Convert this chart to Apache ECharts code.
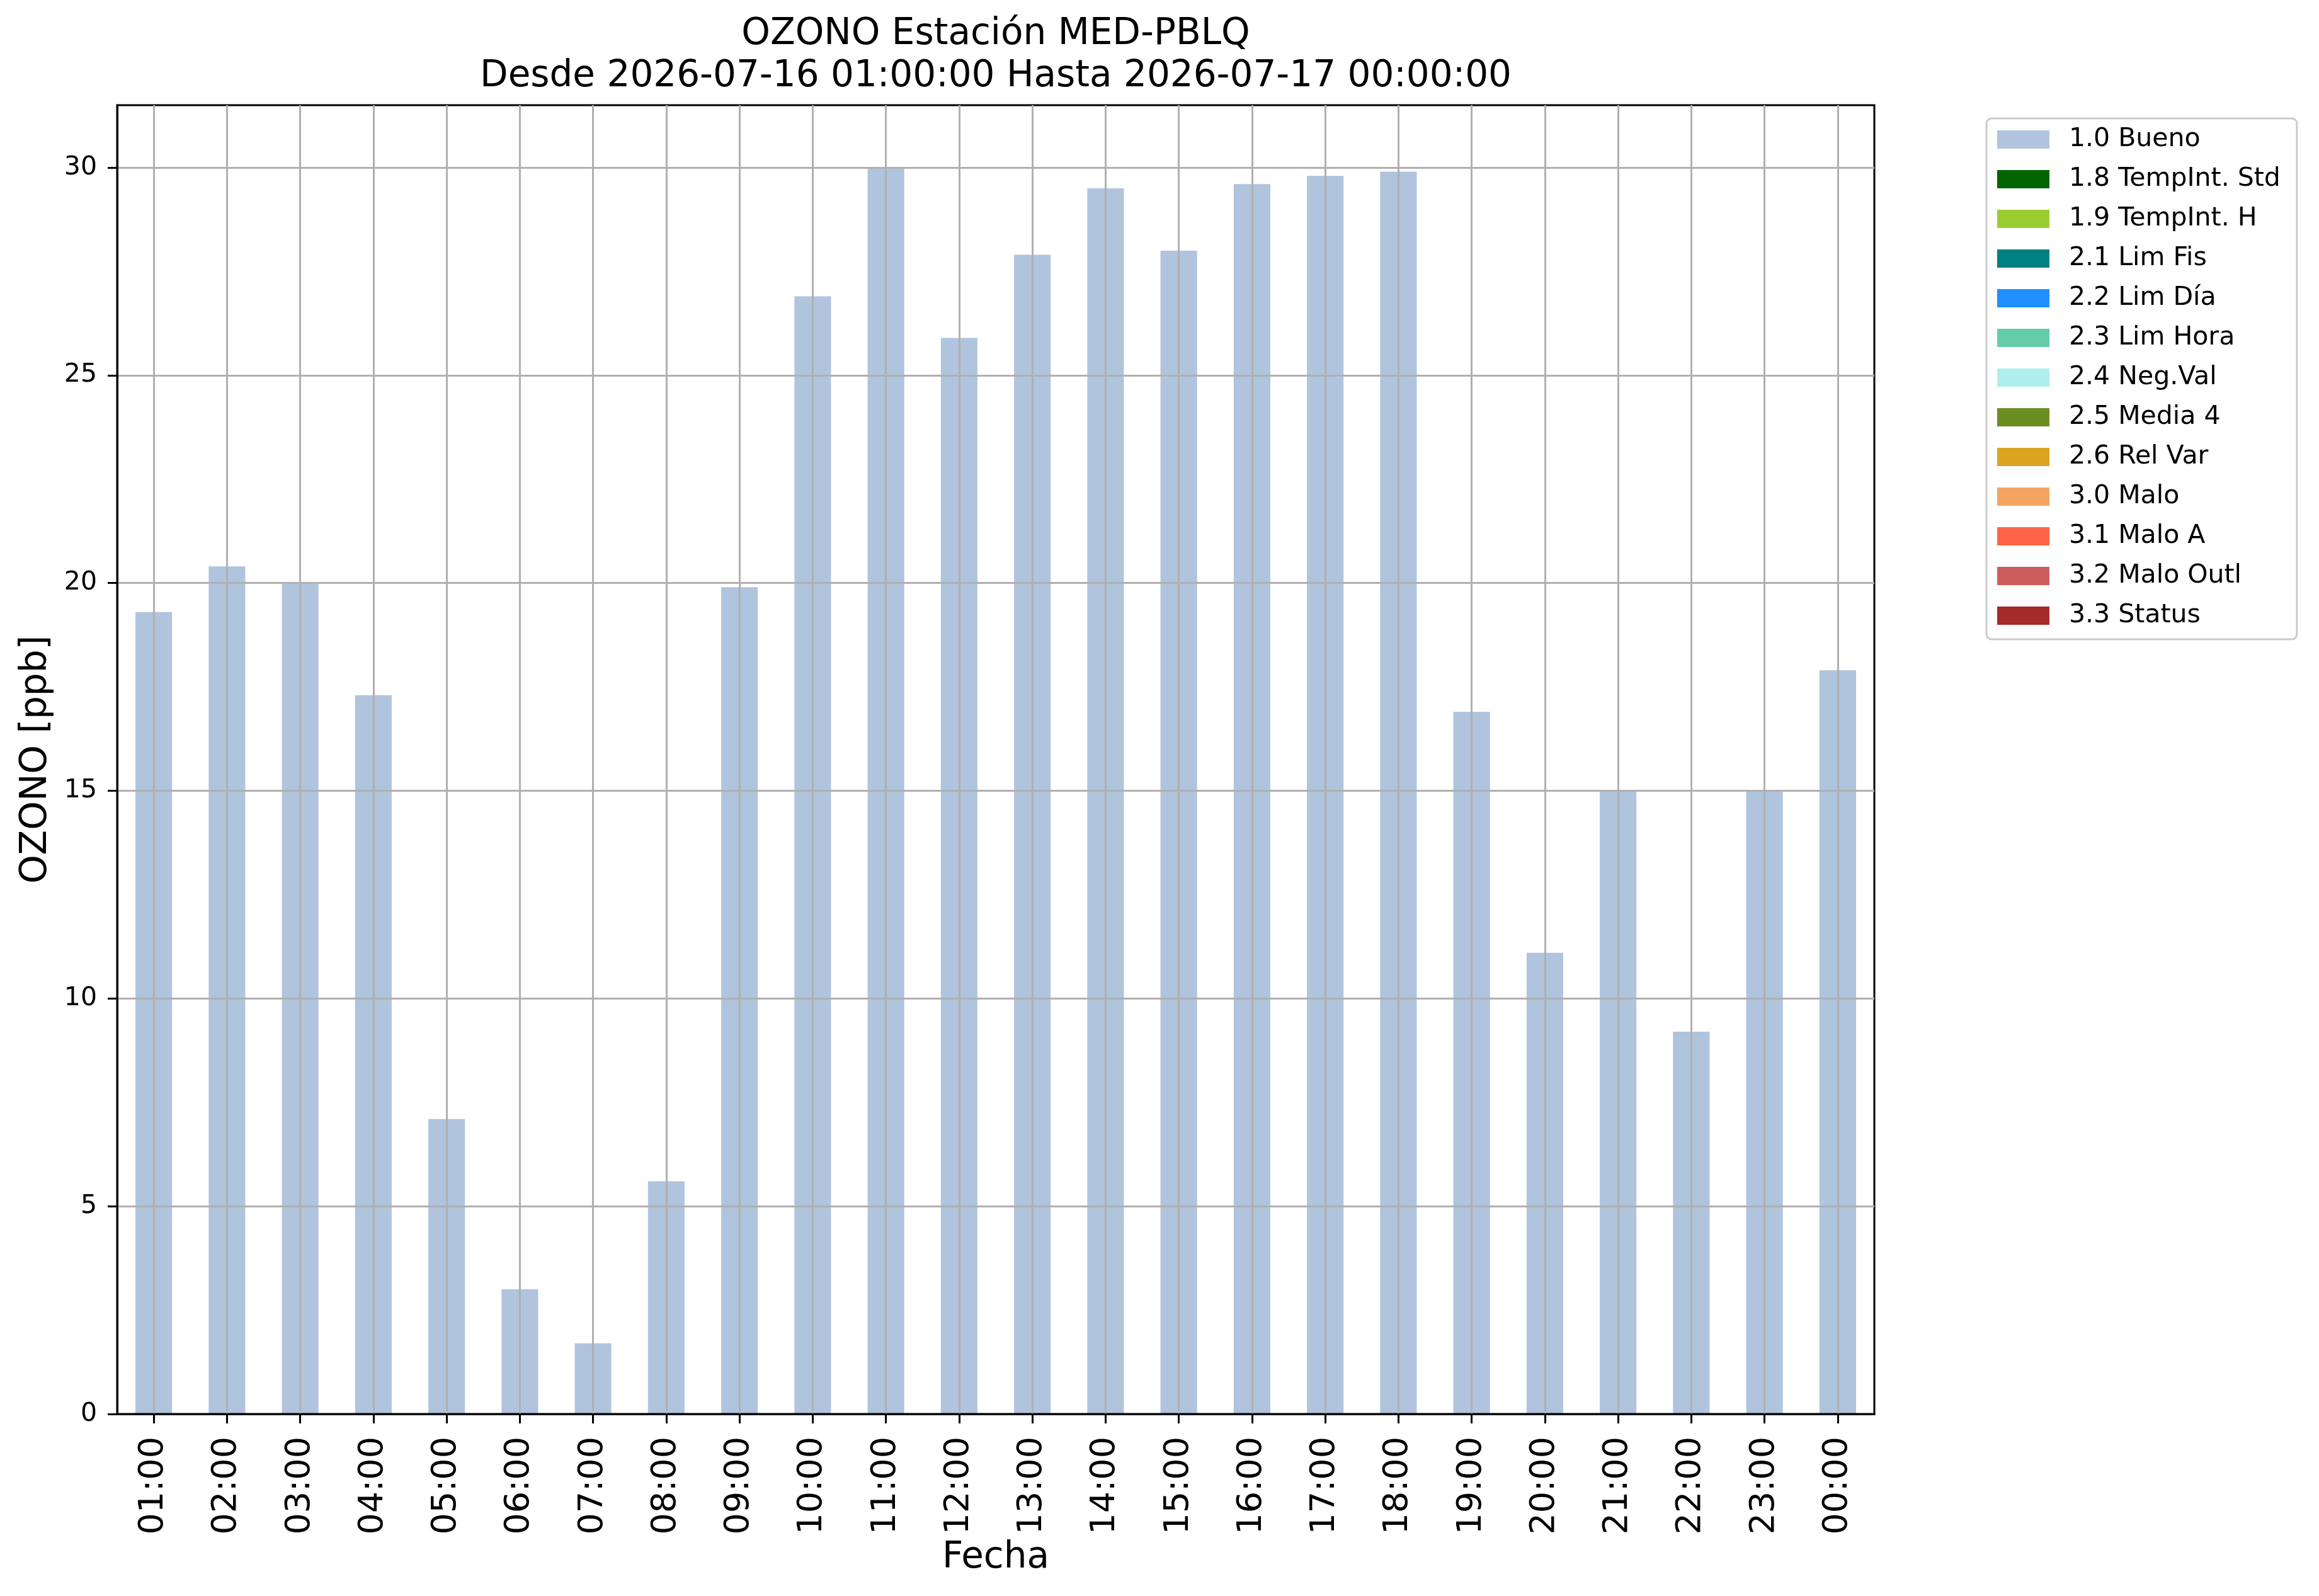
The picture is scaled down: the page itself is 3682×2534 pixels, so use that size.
<!DOCTYPE html>
<html>
<head>
<meta charset="utf-8">
<script src="https://cdn.jsdelivr.net/npm/echarts@6/dist/echarts.min.js"></script>
<style>
  html, body { margin: 0; padding: 0; background: #fff; }
  #chart { width: 3682px; height: 2534px; }
</style>
</head>
<body>
<div id="chart"></div>
<script>
// horas del día (eje x)
var horas = ['01:00','02:00','03:00','04:00','05:00','06:00','07:00','08:00','09:00','10:00','11:00','12:00',
             '13:00','14:00','15:00','16:00','17:00','18:00','19:00','20:00','21:00','22:00','23:00','00:00'];
// valores de ozono con bandera 1.0 Bueno
var ozono = [19.3, 20.4, 20.0, 17.3, 7.1, 3.0, 1.7, 5.6, 19.9, 26.9, 30.0, 25.9,
             27.9, 29.5, 28.0, 29.6, 29.8, 29.9, 16.9, 11.1, 15.0, 9.2, 15.0, 17.9];
var yTicks = [0, 5, 10, 15, 20, 25, 30];
var flagNames = ['1.0 Bueno','1.8 TempInt. Std','1.9 TempInt. H','2.1 Lim Fis','2.2 Lim Día','2.3 Lim Hora',
                 '2.4 Neg.Val','2.5 Media 4','2.6 Rel Var','3.0 Malo','3.1 Malo A','3.2 Malo Outl','3.3 Status'];
var flagColors = ['#b0c4de','#006400','#9acd32','#008080','#1e90ff','#66cdaa',
                  '#afeeee','#6b8e23','#daa520','#f4a460','#ff6347','#cd5c5c','#a52a2a'];

var FONT = 'DejaVu Sans';

(function () {
    var mychart = echarts.init(document.getElementById('chart'));

    // una serie apilada por bandera; solo "1.0 Bueno" tiene datos
    var series = [];
    for (var i = 0; i < flagNames.length; i++) {
        series.push({
            name: flagNames[i],
            type: 'bar',
            stack: 'flags',
            barCategoryGap: '50%',
            z: -1,
            itemStyle: { color: flagColors[i] },
            data: i === 0 ? ozono : []
        });
    }

    var option = {
        animation: false,
        backgroundColor: '#fff',
        title: {
            text: 'OZONO Estación MED-PBLQ\nDesde 2026-07-16 01:00:00 Hasta 2026-07-17 00:00:00',
            left: 1581,
            top: 21,
            padding: 0,
            textAlign: 'center',
            textStyle: {
                fontFamily: FONT,
                fontSize: 58,
                fontWeight: 'normal',
                color: '#000',
                lineHeight: 67
            }
        },
        legend: {
            orient: 'vertical',
            left: 3154,
            top: 188,
            padding: [13, 26, 17, 17],
            itemWidth: 83,
            itemHeight: 29,
            itemGap: 22,
            icon: 'rect',
            backgroundColor: '#fff',
            borderColor: '#cccccc',
            borderWidth: 3,
            borderRadius: 8,
            selectedMode: false,
            textStyle: {
                fontFamily: FONT,
                fontSize: 41,
                color: '#000',
                padding: [0, 0, 0, 26]
            },
            data: flagNames
        },
        grid: {
            left: 186,
            right: 706,
            top: 167,
            bottom: 289,
            show: true,
            borderColor: '#000',
            borderWidth: 3,
            outerBoundsMode: 'none'
        },
        xAxis: {
            type: 'category',
            data: horas,
            name: 'Fecha',
            nameLocation: 'middle',
            nameGap: 198,
            nameTextStyle: { fontFamily: FONT, fontSize: 58, color: '#000' },
            axisLine: { show: true, lineStyle: { color: '#000', width: 3 } },
            axisTick: { show: true, alignWithLabel: true, length: 15, lineStyle: { color: '#000', width: 3 } },
            axisLabel: {
                rotate: 90,
                interval: 0,
                margin: 36,
                fontFamily: FONT,
                fontSize: 54,
                color: '#000'
            },
            splitLine: {
                show: true,
                alignWithLabel: true,
                interval: 0,
                lineStyle: { color: '#b0b0b0', width: 3 }
            }
        },
        yAxis: {
            type: 'value',
            min: 0,
            max: 31.5,
            interval: 5,
            name: 'OZONO [ppb]',
            nameLocation: 'middle',
            nameGap: 99,
            nameTextStyle: { fontFamily: FONT, fontSize: 58, color: '#000' },
            axisLine: { show: true, lineStyle: { color: '#000', width: 3 } },
            axisTick: { show: true, length: 15, customValues: yTicks, lineStyle: { color: '#000', width: 3 } },
            axisLabel: {
                margin: 32,
                customValues: yTicks,
                fontFamily: FONT,
                fontSize: 41,
                color: '#000'
            },
            splitLine: { show: true, lineStyle: { color: '#b0b0b0', width: 3 } }
        },
        series: series
    };
    mychart.setOption(option);
})();
</script>
</body>
</html>
